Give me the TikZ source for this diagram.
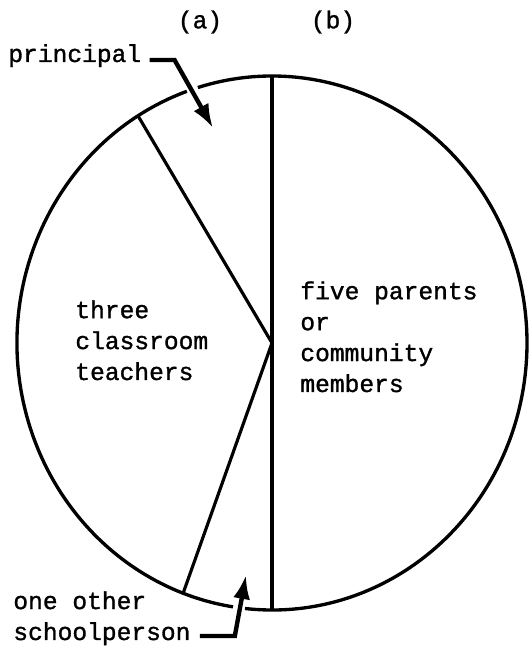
\documentclass[tikz,border=0pt]{standalone}
\usepackage{fontspec}
\usepackage{tikz}
\usetikzlibrary{arrows.meta, calc, positioning}
\newfontfamily\typefont[FakeBold=1.2]{Liberation Mono}

\begin{document}
\begin{tikzpicture}[x=0.02cm, y=0.02cm,
  rim/.style={line width=1.9pt},
  spoke/.style={line width=1.8pt},
  pointer/.style={line width=2.5pt, -{Latex[length=0.48cm, width=0.34cm]}},
  typed/.style={font=\typefont\fontsize{14}{17.6}\selectfont, align=left, inner sep=0pt}]
  \useasboundingbox (0,0) rectangle (529,651);

  % Circle center
  \coordinate (O) at (272,308);

  % Points on the rim
  \coordinate (T) at ($(O)+(90:255 and 267)$);
  \coordinate (B) at ($(O)+(270:255 and 267)$);
  \coordinate (A) at ($(O)+(121.7:255 and 267)$);
  \coordinate (C) at ($(O)+(249.6:255 and 267)$);

  % Draw circle, open where the arrows pass
  \draw[rim] (O) ++(263.9:255 and 267) arc [start angle=263.9, end angle=466.9, x radius=255, y radius=267];
  \draw[rim] (O) ++(109.5:255 and 267) arc [start angle=109.5, end angle=261.2, x radius=255, y radius=267];

  % Draw the sectors
  \draw[spoke] (T) -- (B);
  \draw[spoke] (A) -- (O) -- (C);

  % Column heads
  \node[typed] (capa) at (200,629) {(a)};
  \node[typed] (capb) at (333,629) {(b)};

  % Sector labels (base is the last line)
  \node[typed, anchor=base west] (teach) at (75,271) {three\\classroom\\teachers};
  \node[typed, anchor=base west] (parent) at (300,259) {five parents\\or\\community\\members};

  % Outside labels with arrows
  \node[typed, anchor=base west] (princ) at (8,589) {principal};
  \node[typed, anchor=base west] (other) at (13,11) {one other\\schoolperson};

  \coordinate (ptip) at (213,523);
  \coordinate (stip) at (246,76);
  \draw[pointer] ($(princ.base east)+(8,2)$) -- ++(25,0) -- (ptip);
  \draw[pointer] ($(other.base east)+(9,4)$) -- ++(35,0) -- (stip);
\end{tikzpicture}
\end{document}
